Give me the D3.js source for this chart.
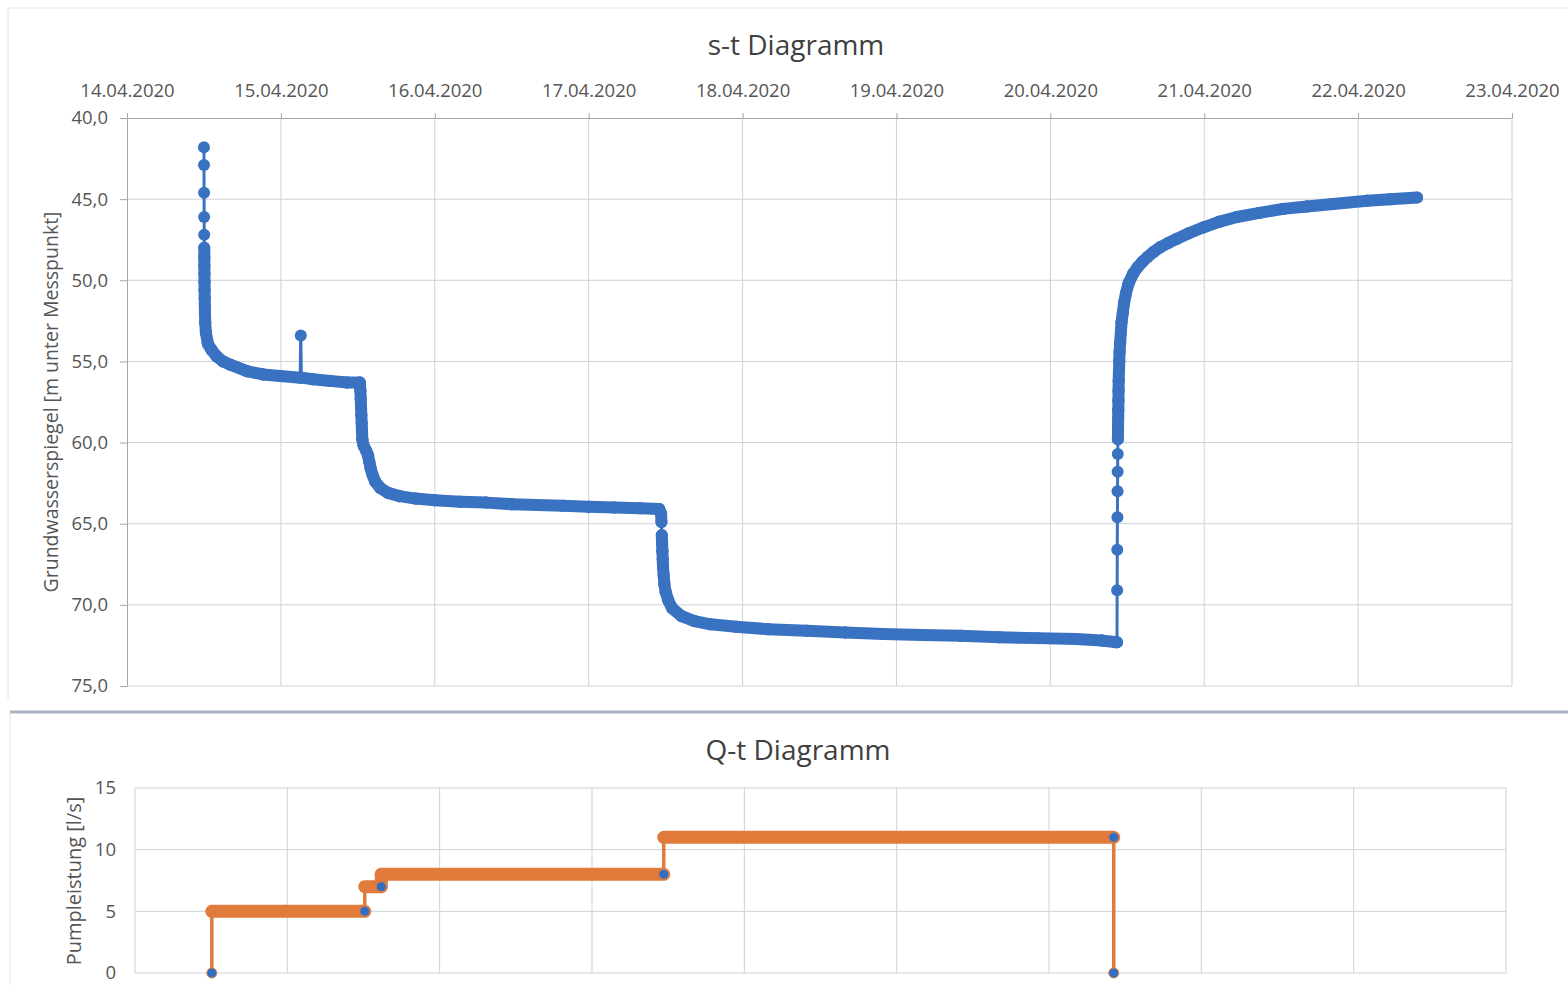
<!DOCTYPE html>
<html>
<head>
<meta charset="utf-8">
<script src="https://cdn.jsdelivr.net/npm/d3@7"></script>
<style>
  body { margin: 0; background: #fff; }
  svg text { font-family: "Open Sans", "Noto Sans", sans-serif; }
</style>
</head>
<body>
<svg id="chart" width="1568" height="985"></svg>
<script>
// hours after 14.04.2020 00:00 and water level [m unter Messpunkt]
const sHours = [
  12.0, 12.01, 12.02, 12.03, 12.04, 12.05, 12.06, 12.07, 12.08, 12.09, 12.1, 12.12, 12.14, 12.16, 12.2, 12.3,
  12.6, 13.2, 14.0, 15.0, 16.1, 18.7, 21.2, 23.9, 27.0, 27.1, 27.2, 29.0, 31.7, 34.3, 36.3,
  36.4, 36.45, 36.5, 36.55, 36.6, 36.65, 36.7, 36.9, 37.3, 37.6, 37.8, 38.0, 38.3, 38.7, 39.5, 40.7, 42.5,
  45, 48, 52, 56, 60, 64, 68, 72, 76, 80, 83.0,
  83.3, 83.35, 83.4, 83.45, 83.5, 83.55, 83.6, 83.7, 83.8, 84.0, 84.4, 85.0, 86.5, 88.5, 91, 95, 100,
  106, 112, 118, 124, 130, 136, 142, 148, 152, 154.3,
  154.4, 154.42, 154.44, 154.46, 154.48, 154.5, 154.52, 154.54, 154.56, 154.58, 154.6, 154.62, 154.64,
  154.66, 154.7, 154.75, 154.8, 154.9, 155.0, 155.1, 155.3, 155.5, 155.8, 156.2, 156.9, 157.6, 158.4,
  159.2, 160.1, 161.2, 162.4, 163.7, 165.6, 167.8, 170.3, 173.1, 176.6, 180.3, 184.0, 188.1, 193.4,
  197.0, 201.2
];
const sLevel = [
  41.8, 42.9, 44.6, 46.1, 47.2, 48.0, 48.6, 49.1, 49.6, 50.1, 50.6, 51.1, 51.6, 52.1, 52.6, 53.2,
  53.9, 54.3, 54.7, 55.0, 55.2, 55.6, 55.8, 55.9, 56.0, 53.4, 56.0, 56.1, 56.2, 56.3, 56.3,
  56.8, 57.3, 57.8, 58.3, 58.8, 59.3, 59.8, 60.2, 60.5, 60.8, 61.2, 61.6, 62.0, 62.4, 62.8, 63.1, 63.3,
  63.45, 63.55, 63.65, 63.7, 63.8, 63.85, 63.9, 63.95, 64.0, 64.05, 64.1,
  64.4, 64.9, 65.7, 66.2, 66.7, 67.2, 67.7, 68.2, 68.7, 69.2, 69.7, 70.2, 70.7, 71.0, 71.2, 71.35, 71.5,
  71.6, 71.7, 71.8, 71.85, 71.9, 72.0, 72.05, 72.1, 72.2, 72.3,
  72.3, 69.1, 66.6, 64.6, 63.0, 61.8, 60.7, 59.8, 59.1, 58.5, 58.0, 57.4, 56.8,
  56.2, 55.6, 55.0, 54.4, 53.8, 53.2, 52.6, 52.0, 51.4, 50.8, 50.2, 49.6, 49.2, 48.85,
  48.55, 48.25, 47.95, 47.7, 47.45, 47.1, 46.75, 46.4, 46.1, 45.85, 45.6, 45.45, 45.3, 45.1,
  45.0, 44.9
];

// pump rate [l/s]
const qHours = [12.1, 12.1, 36.2, 36.2, 38.8, 38.8, 83.3, 83.3, 154.2, 154.2];
const qRate = [0, 5, 5, 7, 7, 8, 8, 11, 11, 0];
const qMarkHours = [12.1, 36.2, 38.8, 83.3, 154.2, 154.2];
const qMarkRate = [0, 5, 7, 8, 11, 0];

const dayLabels = ['14.04.2020', '15.04.2020', '16.04.2020', '17.04.2020', '18.04.2020',
  '19.04.2020', '20.04.2020', '21.04.2020', '22.04.2020', '23.04.2020'];
const sTicks = [40, 45, 50, 55, 60, 65, 70, 75];
const qTicks = [0, 5, 10, 15];

const blue = '#3a72c2';
const orange = '#e07b3c';
const grid = '#cdd1db';
const labelColor = '#555';

const parseDay = d3.timeParse('%d.%m.%Y');
const days = dayLabels.map(parseDay);
const t0 = days[0];
const toDate = h => new Date(t0.getTime() + h * 3600e3);

const sData = sHours.map((h, i) => ({ t: toDate(h), v: sLevel[i] }));
const qData = qHours.map((h, i) => ({ t: toDate(h), v: qRate[i] }));
const qMarks = qMarkHours.map((h, i) => ({ t: toDate(h), v: qMarkRate[i] }));

const svg = d3.select('#chart');

// scan frame + separator
svg.append('path').attr('d', 'M8,700 V8 H1568').attr('fill', 'none')
  .attr('stroke', '#e4e4e4').attr('stroke-width', 1);
svg.append('line').attr('x1', 10).attr('x2', 1568).attr('y1', 712).attr('y2', 712)
  .attr('stroke', '#aab2c6').attr('stroke-width', 3);
svg.append('line').attr('x1', 10).attr('x2', 10).attr('y1', 714).attr('y2', 985)
  .attr('stroke', '#e4e4e4');

// logger series: samples are dense in time, so the markers merge into a band;
// only fast jumps (big step within almost no time) stay a thin line between dots
function drawSeries(g, data, x, y, color, thick, thin) {
  const segs = d3.pairs(data).map(([a, b]) => ({
    a, b,
    band: !(Math.abs(y(a.v) - y(b.v)) >= thick && Math.abs(x(a.t) - x(b.t)) < 1)
  }));
  segs.sort((p, q) => p.band - q.band);
  g.selectAll('line.seg').data(segs).join('line')
    .attr('class', 'seg')
    .attr('x1', d => x(d.a.t)).attr('y1', d => y(d.a.v))
    .attr('x2', d => x(d.b.t)).attr('y2', d => y(d.b.v))
    .attr('stroke', color)
    .attr('stroke-width', d => d.band ? thick : thin)
    .attr('stroke-linecap', 'round');
}

// ---------- s-t Diagramm ----------
const mTop = { left: 127, right: 1512, top: 118, bottom: 686 };
const xS = d3.scaleTime().domain([days[0], days[days.length - 1]]).range([mTop.left, mTop.right]);
const yS = d3.scaleLinear().domain([40, 75]).range([mTop.top, mTop.bottom]);

const gS = svg.append('g');

gS.append('g').selectAll('line').data(sTicks.slice(1)).join('line')
  .attr('x1', mTop.left).attr('x2', mTop.right)
  .attr('y1', d => yS(d)).attr('y2', d => yS(d))
  .attr('stroke', grid).attr('stroke-width', 1);
gS.append('g').selectAll('line').data(days.slice(1)).join('line')
  .attr('x1', d => xS(d)).attr('x2', d => xS(d))
  .attr('y1', mTop.top).attr('y2', mTop.bottom)
  .attr('stroke', grid).attr('stroke-width', 1);

const axTop = gS.append('g').attr('transform', `translate(0,${mTop.top})`)
  .call(d3.axisTop(xS).tickValues(days).tickFormat(d3.timeFormat('%d.%m.%Y'))
    .tickSize(5).tickSizeOuter(0).tickPadding(16));
const axLeft = gS.append('g').attr('transform', `translate(${mTop.left},0)`)
  .call(d3.axisLeft(yS).tickValues(sTicks).tickFormat(d => d.toFixed(1).replace('.', ','))
    .tickSize(7).tickSizeOuter(0).tickPadding(12));
[axTop, axLeft].forEach(a => {
  a.select('.domain').attr('stroke', '#a6a6a6');
  a.selectAll('.tick line').attr('stroke', '#a6a6a6');
  a.selectAll('.tick text').attr('fill', labelColor).style('font-size', '18.5px');
});

const sLayer = gS.append('g');
drawSeries(sLayer, sData, xS, yS, blue, 12, 3);
sLayer.selectAll('circle').data(sData).join('circle')
  .attr('cx', d => xS(d.t)).attr('cy', d => yS(d.v)).attr('r', 6)
  .attr('fill', blue);

svg.append('text').attr('x', 796).attr('y', 55).attr('text-anchor', 'middle')
  .attr('fill', '#404040').style('font-size', '28px').text('s-t Diagramm');
svg.append('text')
  .attr('transform', 'translate(58,402) rotate(-90)')
  .attr('text-anchor', 'middle').attr('fill', labelColor).style('font-size', '19.5px')
  .text('Grundwasserspiegel [m unter Messpunkt]');

// ---------- Q-t Diagramm ----------
const mBot = { left: 135, right: 1506, top: 788, bottom: 973 };
const xQ = d3.scaleTime().domain([days[0], days[days.length - 1]]).range([mBot.left, mBot.right]);
const yQ = d3.scaleLinear().domain([0, 15]).range([mBot.bottom, mBot.top]);

const gQ = svg.append('g');
gQ.append('g').selectAll('line').data(qTicks).join('line')
  .attr('x1', mBot.left).attr('x2', mBot.right)
  .attr('y1', d => yQ(d)).attr('y2', d => yQ(d))
  .attr('stroke', grid).attr('stroke-width', 1);
gQ.append('g').selectAll('line').data(days).join('line')
  .attr('x1', d => xQ(d)).attr('x2', d => xQ(d))
  .attr('y1', mBot.top).attr('y2', mBot.bottom)
  .attr('stroke', grid).attr('stroke-width', 1);

const axQ = gQ.append('g').attr('transform', `translate(${mBot.left},0)`)
  .call(d3.axisLeft(yQ).tickValues(qTicks).tickSize(0).tickPadding(19));
axQ.select('.domain').remove();
axQ.selectAll('.tick text').attr('fill', labelColor).style('font-size', '18.5px');

const qLayer = gQ.append('g');
drawSeries(qLayer, qData, xQ, yQ, orange, 13, 3.5);
qLayer.selectAll('circle').data(qMarks).join('circle')
  .attr('cx', d => xQ(d.t)).attr('cy', d => yQ(d.v)).attr('r', 5)
  .attr('fill', '#2f6fc4').attr('stroke', orange).attr('stroke-width', 1);

svg.append('text').attr('x', 798).attr('y', 760).attr('text-anchor', 'middle')
  .attr('fill', '#404040').style('font-size', '28px').text('Q-t Diagramm');
svg.append('text')
  .attr('transform', 'translate(81,881) rotate(-90)')
  .attr('text-anchor', 'middle').attr('fill', labelColor).style('font-size', '20px')
  .text('Pumpleistung [l/s]');
</script>
</body>
</html>
